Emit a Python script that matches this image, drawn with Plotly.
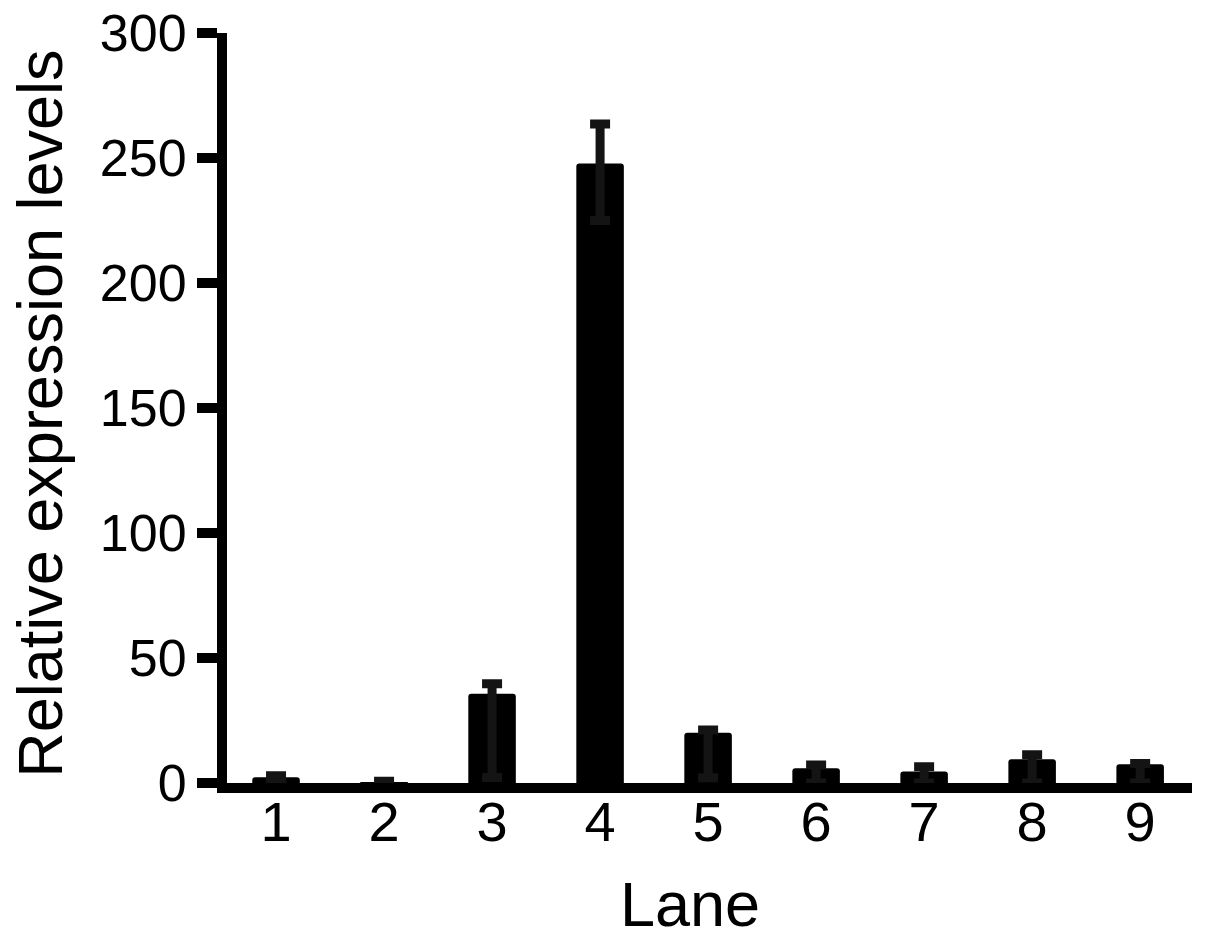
import plotly.graph_objects as go

lanes = [1, 2, 3, 4, 5, 6, 7, 8, 9]
lane_labels = ["1", "2", "3", "4", "5", "6", "7", "8", "9"]
expression = [2.3, 0.1, 35.7, 247.8, 20.1, 5.9, 4.6, 9.5, 7.5]
err_up = [0.6, 0.6, 4.0, 15.8, 1.1, 1.3, 1.9, 1.8, 0.3]
err_down = [0.6, 0.1, 33.5, 22.8, 18.0, 5.9, 4.6, 9.5, 7.5]

font_family = "Liberation Sans, Arial, Helvetica, sans-serif"

fig = go.Figure()

fig.add_trace(go.Bar(
    x=lanes,
    y=expression,
    width=0.44,
    marker=dict(color="black", line=dict(width=0), cornerradius=3),
    error_y=dict(
        type="data",
        symmetric=False,
        array=err_up,
        arrayminus=err_down,
        color="#141414",
        thickness=9,
        width=10,
    ),
))

# axis titles as annotations so they can sit where the original has them
fig.add_annotation(text="Lane", xref="paper", yref="paper", x=0.48, y=-0.161,
                   xanchor="center", yanchor="middle", showarrow=False,
                   font=dict(size=63))
fig.add_annotation(text="Relative expression levels", xref="paper", yref="paper",
                   x=-0.194, y=0.492, textangle=-90, xanchor="center",
                   yanchor="middle", showarrow=False, font=dict(size=63))

# the page body adds an 8px offset, so margins are trimmed by 8
fig.update_layout(
    width=1197,
    height=931,
    margin=dict(l=219, r=13, t=25, b=156),
    plot_bgcolor="white",
    paper_bgcolor="white",
    showlegend=False,
    font=dict(family=font_family, color="black"),
    xaxis=dict(
        range=[0.546, 9.48],
        tickmode="array",
        tickvals=lanes,
        ticktext=lane_labels,
        showline=True,
        linecolor="black",
        linewidth=10,
        ticks="",
        showgrid=False,
        zeroline=False,
        automargin=False,
        ticklabelstandoff=-19,
        tickfont=dict(size=56),
    ),
    yaxis=dict(
        range=[0, 300],
        tickvals=[0, 50, 100, 150, 200, 250, 300],
        showline=True,
        linecolor="black",
        linewidth=10,
        ticks="outside",
        ticklen=20,
        tickwidth=10,
        tickcolor="black",
        showgrid=False,
        zeroline=False,
        automargin=False,
        ticklabeloverflow="allow",
        tickfont=dict(size=52),
    ),
)

fig.write_html("out.html")
